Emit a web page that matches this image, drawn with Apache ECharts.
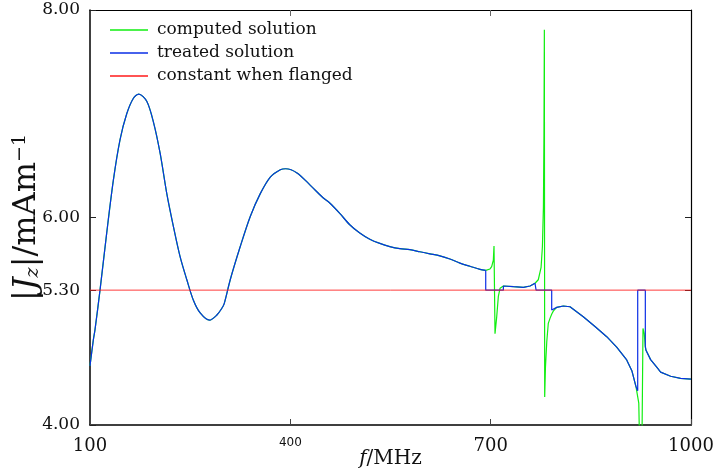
<!DOCTYPE html>
<html>
<head>
<meta charset="utf-8">
<script src="https://cdn.jsdelivr.net/npm/echarts@6/dist/echarts.min.js"></script>
<style>html,body{margin:0;padding:0;background:#fff;}#c{width:715px;height:473px;}</style>
</head>
<body>
<div id="c"></div>
<script>
// ---- data (frequency in MHz, |Jz| in mA/m) ----
const xTicks = [100, 400, 700, 1000];
const yTicks = [4.0, 5.3, 6.0, 8.0];

// smooth part, shared by both solutions
const baseFreq = [100,105,107.5,115,125,135,145,155,165,173,185,195,205,215,225,235,245,255,265,279,290,297,301,310,325,340,355,370,385,393,410,430,449,459,474,489,504,519,534,549,564,579,594,609,624,639,654,669,684,692.6];
const baseJz   = [4.57,4.82,4.92,5.30,5.85,6.36,6.75,7.00,7.15,7.19,7.12,6.92,6.62,6.23,5.91,5.62,5.40,5.20,5.08,5.01,5.06,5.12,5.17,5.40,5.72,6.01,6.23,6.39,6.46,6.47,6.43,6.31,6.19,6.14,6.04,5.93,5.85,5.79,5.75,5.72,5.70,5.69,5.67,5.65,5.63,5.60,5.56,5.53,5.50,5.49];

// treated solution beyond 692 MHz
const treatedFreq = [692.6,692.6,719,719,734,749,759,766.4,768,768,791.4,791.4,798.9,808.8,818.8,838.7,856.2,873.8,888.7,903.7,911.6,917.6,920.2,920.2,931.6,931.6,932.6,939.5,949.6,954.5,969.5,984.4,1000];
const treatedJz   = [5.49,5.30,5.30,5.34,5.333,5.327,5.34,5.366,5.37,5.30,5.30,5.108,5.134,5.147,5.14,5.044,4.95,4.851,4.75,4.627,4.52,4.37,4.33,5.30,5.30,4.76,4.72,4.63,4.55,4.51,4.47,4.45,4.443];

// computed solution beyond 692 MHz
const computedFreq = [692.6,699,701.5,704,705,706.5,709,711.5,714,719,734,749,759,766.4,771.3,775.5,777.5,779,779.8,780.4,780.9,782,784,786.3,789,791.5,794,798.9,808.8,818.8,838.7,856.2,873.8,888.7,903.7,911.6,917.6,921.8,924,926,928.1,930,931.6,932.6,939.5,949.6,954.5,969.5,984.4,1000];
const computedJz   = [5.49,5.504,5.526,5.59,5.725,4.88,5.04,5.24,5.317,5.34,5.333,5.327,5.34,5.366,5.40,5.52,5.72,6.10,6.80,7.81,4.27,4.55,4.80,4.98,5.03,5.07,5.10,5.134,5.147,5.14,5.044,4.95,4.851,4.75,4.627,4.52,4.37,4.21,3.5,3.4,4.93,4.88,4.75,4.72,4.63,4.55,4.51,4.47,4.45,4.443];

const flangedFreq = [100, 1000];
const flangedJz = 5.3;

const zip = (a, b) => a.map((v, i) => [v, b[i]]);
const baseData = zip(baseFreq, baseJz);

const GREEN = '#11ee11', BLUE = '#0a2ee6', RED = '#ff1a1a';
const SERIF = 'DejaVu Serif';

const chart = echarts.init(document.getElementById('c'), null, {renderer: 'canvas'});
chart.setOption({
  animation: false,
  backgroundColor: '#fff',
  grid: {left: 90, right: 24, top: 10, bottom: 48, show: false, containLabel: false, outerBoundsMode: 'none'},
  legend: {
    left: 105, top: 16, orient: 'vertical',
    icon: 'rect', itemWidth: 38, itemHeight: 1.3, itemGap: 5,
    data: ['computed solution', 'treated solution', 'constant when flanged'],
    textStyle: {fontFamily: SERIF, fontSize: 17, color: '#111', lineHeight: 18, padding: [0, 0, 0, 4]}
  },
  xAxis: [{
    type: 'value', min: 100, max: 1000, interval: 300, position: 'bottom',
    axisLine: {show: true, lineStyle: {color: '#000', width: 1.5}},
    axisTick: {show: true, inside: true, length: 6, lineStyle: {color: '#444', width: 1}},
    splitLine: {show: false},
    axisLabel: {
      margin: 12, color: '#111',
      formatter: v => v === 400 ? '{s|400}' : '{n|' + v + '}',
      rich: {
        n: {fontFamily: SERIF, fontSize: 18, color: '#111'},
        s: {fontFamily: 'DejaVu Sans', fontSize: 12, color: '#111', padding: [0, 0, 7, 0]}
      }
    },
    name: '{it|f}/MHz', nameLocation: 'middle', nameGap: 24, nameMoveOverlap: false,
    nameTextStyle: {fontFamily: SERIF, fontSize: 20, color: '#111',
      rich: {it: {fontFamily: SERIF, fontStyle: 'italic', fontSize: 20, color: '#111'}}}
  }, {
    type: 'value', min: 100, max: 1000, interval: 300, position: 'top',
    axisLine: {show: true, lineStyle: {color: '#000', width: 1.2}},
    axisTick: {show: true, inside: true, length: 6, customValues: [400, 700], lineStyle: {color: '#666'}},
    axisLabel: {show: false}, splitLine: {show: false}
  }],
  yAxis: [{
    type: 'value', min: 4, max: 8, position: 'left',
    axisLine: {show: true, lineStyle: {color: '#000', width: 1.5}},
    axisTick: {show: true, inside: true, length: 6, customValues: yTicks, lineStyle: {color: '#222'}},
    splitLine: {show: false},
    axisLabel: {
      margin: 10, color: '#111', fontFamily: SERIF, fontSize: 17,
      customValues: yTicks, formatter: v => v.toFixed(2)
    },
    name: '|{it|J}{sub|z}|/mAm{sup|−1}', nameLocation: 'middle', nameGap: 47, nameMoveOverlap: false,
    nameTextStyle: {fontFamily: SERIF, fontSize: 32, color: '#111',
      rich: {
        it: {fontFamily: SERIF, fontStyle: 'italic', fontSize: 32, color: '#111'},
        sub: {fontFamily: SERIF, fontStyle: 'italic', fontSize: 19, color: '#111', verticalAlign: 'bottom'},
        sup: {fontFamily: SERIF, fontSize: 19, color: '#111', verticalAlign: 'top'}
      }}
  }, {
    type: 'value', min: 4, max: 8, position: 'right',
    axisLine: {show: true, lineStyle: {color: '#000', width: 1.2}},
    axisTick: {show: true, inside: true, length: 6, customValues: [5.3, 6.0], lineStyle: {color: '#222'}},
    axisLabel: {show: false}, splitLine: {show: false}
  }],
  series: [
    {name: 'computed solution', type: 'line', symbol: 'none', smooth: 0.3, color: GREEN,
     lineStyle: {width: 1.2, color: GREEN}, data: baseData, clip: true},
    {name: 'computed solution', type: 'line', symbol: 'none', color: GREEN,
     lineStyle: {width: 1.2, color: GREEN}, data: zip(computedFreq, computedJz), clip: true},
    {name: 'treated solution', type: 'line', symbol: 'none', smooth: 0.3, color: BLUE,
     lineStyle: {width: 1.2, color: BLUE}, data: baseData, clip: true},
    {name: 'treated solution', type: 'line', symbol: 'none', color: BLUE,
     lineStyle: {width: 1.2, color: BLUE}, data: zip(treatedFreq, treatedJz), clip: true},
    {name: 'constant when flanged', type: 'line', symbol: 'none', color: RED,
     lineStyle: {width: 1, color: RED, opacity: 0.85}, data: flangedFreq.map(f => [f, flangedJz]), clip: true}
  ]
});
</script>
</body>
</html>
